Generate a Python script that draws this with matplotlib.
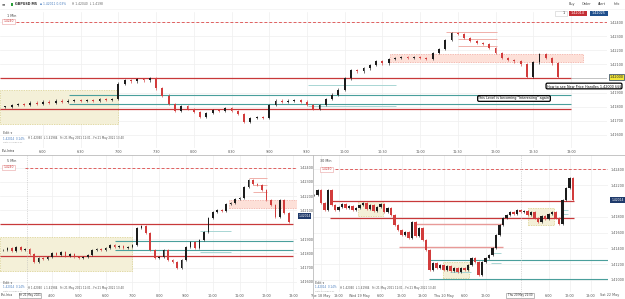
import matplotlib
matplotlib.use("Agg")
import matplotlib.pyplot as plt
from matplotlib.patches import Rectangle

W, H = 625, 299

# ---------------- data ----------------
# top chart: 5 min closes, Fri 21 May, first bar 05:30 (minutes after midnight)
top_t0, top_step = 330, 5
top_close = [1.41800, 1.41814, 1.41821, 1.41814, 1.41829, 1.41821, 1.41836, 1.41829,
             1.41843, 1.41836, 1.41843, 1.41850, 1.41843, 1.41850, 1.41843, 1.41857,
             1.41850, 1.41857, 1.41964, 1.41986, 1.41979, 1.41993, 1.41986, 1.42000,
             1.41929, 1.41879, 1.41821, 1.41771, 1.41807, 1.41786, 1.41764, 1.41729,
             1.41757, 1.41779, 1.41771, 1.41793, 1.41771, 1.41750, 1.41693, 1.41721,
             1.41729, 1.41721, 1.41814, 1.41843, 1.41836, 1.41843, 1.41850, 1.41836,
             1.41814, 1.41786, 1.41814, 1.41857, 1.41886, 1.41921, 1.42000, 1.42057,
             1.42050, 1.42071, 1.42093, 1.42121, 1.42107, 1.42136, 1.42143, 1.42150,
             1.42143, 1.42150, 1.42143, 1.42136, 1.42179, 1.42207, 1.42271, 1.42321,
             1.42314, 1.42286, 1.42264, 1.42250, 1.42243, 1.42214, 1.42179, 1.42143,
             1.42129, 1.42121, 1.42100, 1.42014, 1.42114, 1.42171, 1.42143, 1.42107,
             1.42014]

# bottom left: 10 min closes, first bar 02:10
bl_t0, bl_step = 130, 10
bl_close = [1.41823, 1.41837, 1.41816, 1.41844, 1.41823, 1.41830, 1.41795, 1.41740,
            1.41768, 1.41761, 1.41775, 1.41802, 1.41788, 1.41809, 1.41781, 1.41795,
            1.41775, 1.41768, 1.41775, 1.41788, 1.41823, 1.41830, 1.41823, 1.41837,
            1.41858, 1.41844, 1.41851, 1.41837, 1.41844, 1.41858, 1.41977, 1.41991,
            1.41942, 1.41823, 1.41768, 1.41775, 1.41823, 1.41754, 1.41740, 1.41698,
            1.41754, 1.41844, 1.41879, 1.41837, 1.41893, 1.41949, 1.42047, 1.42089,
            1.42103, 1.42096, 1.42145, 1.42152, 1.42180, 1.42187, 1.42264, 1.42313,
            1.42285, 1.42278, 1.42243, 1.42173, 1.42138, 1.42054, 1.42173, 1.42082,
            1.42019]

# bottom right: hourly closes from Tue 18 May 11:00 (bar index)
br_close = [1.42077, 1.42140, 1.41976, 1.41887, 1.42140, 1.41950, 1.41887, 1.41925,
            1.41963, 1.41912, 1.41938, 1.41887, 1.41912, 1.41950, 1.41976, 1.41900,
            1.41950, 1.41874, 1.41925, 1.41963, 1.41862, 1.41912, 1.41824, 1.41697,
            1.41633, 1.41570, 1.41608, 1.41532, 1.41735, 1.41557, 1.41659, 1.41507,
            1.41380, 1.41127, 1.41215, 1.41152, 1.41190, 1.41127, 1.41177, 1.41114,
            1.41152, 1.41101, 1.41152, 1.41127, 1.41190, 1.41279, 1.41228, 1.41063,
            1.41228, 1.41279, 1.41317, 1.41405, 1.41570, 1.41697, 1.41786, 1.41824,
            1.41862, 1.41836, 1.41887, 1.41862, 1.41874, 1.41824, 1.41862, 1.41786,
            1.41735, 1.41811, 1.41773, 1.41836, 1.41862, 1.41786, 1.41710, 1.42014,
            1.42166, 1.42292, 1.42014]

last_price = 1.42014
level_dash = 1.4240
level_red = [1.42005, 1.41782]
level_teal = [1.41886, 1.41821]
level_teal_light = [1.41953, 1.41807]
level_pink = [1.42329, 1.42279, 1.42229]
pink_start = [681, 690, 690]
zone_pink = (1.42114, 1.42171)
zone_beige = (1.41679, 1.41917)

# bottom right drawings (price, from bar, to bar)
br_pink_lines = [(1.41710, 28.9, 53.7), (1.41420, 24.3, 54.0)]
br_teal_lines = [(1.41253, 32.9, 84.0), (1.41010, 32.9, 84.0)]
br_teal_short = [(1.41340, 50.6, 53.4), (1.41220, 50.6, 53.4), (1.41890, 70.6, 72.6),
                 (1.41840, 70.6, 72.6), (1.41100, 38.9, 44.9)]
br_beige = [(12.6, 19.7, 1.41811, 1.42001), (36.9, 44.3, 1.41025, 1.41228),
            (61.1, 68.6, 1.41697, 1.41912)]

top_ticks = list(range(360, 781, 30))
top_labels = ["%d:%02d" % (m // 60, m % 60) for m in top_ticks]
bl_ticks = list(range(240, 781, 60))
bl_labels = ["%d:00" % (m // 60) for m in bl_ticks]
br_ticks = [2, 7, 13, 19, 25, 31, 37, 43, 49, 67, 73, 79]
br_labels = ["Tue 18 May", "18:00", "Wed 19 May", "6:00", "12:00", "18:00",
             "Thu 20 May", "6:00", "12:00", "6:00", "12:00", "18:00"]

UP, DOWN = "#1c1c1c", "#d23c3c"
RED, TEAL, LTEAL = "#c8383a", "#4a9f9c", "#a9d6d4"
PINK_F, PINK_E = "#fde0d8", "#f2a79c"
BEIGE_F, BEIGE_E = "#f4f0d8", "#d9cf8a"
FS = 2.4

fig = plt.figure(figsize=(W / 100, H / 100), dpi=100)
fig.patch.set_facecolor("white")


def px_axes(x0, y0, x1, y1):
    return fig.add_axes([x0 / W, 1 - y1 / H, (x1 - x0) / W, (y1 - y0) / H])


def candles(ax, xs, closes, width, wick):
    opens = [closes[0]] + closes[:-1]
    for x, o, c in zip(xs, opens, closes):
        col = UP if c >= o else DOWN
        ax.vlines(x, min(o, c) - wick, max(o, c) + wick, color=col, lw=0.45, zorder=4)
        h = c - o if abs(c - o) > 2e-5 else 2e-5
        ax.bar(x, h, width, bottom=o, color=col, lw=0, zorder=4)


def style(ax, xlim, ylim, yticks, xticks, xlabels):
    ax.set_xlim(*xlim)
    ax.set_ylim(*ylim)
    for s in ax.spines.values():
        s.set_visible(False)
    ax.yaxis.tick_right()
    ax.set_yticks(yticks)
    ax.set_yticklabels(["%.5f" % v for v in yticks])
    ax.set_xticks(xticks)
    ax.set_xticklabels(xlabels)
    ax.tick_params(length=0, labelsize=FS, colors="#555555", pad=2)
    ax.tick_params(axis="x", pad=1.2)
    ax.grid(color="#efefef", lw=0.5)
    ax.set_axisbelow(True)


def zone(ax, x0, x1, lo, hi, fc, ec):
    ax.add_patch(Rectangle((x0, lo), x1 - x0, hi - lo, fc=fc, ec=ec,
                           ls=(0, (2, 1.5)), lw=0.5, zorder=1))


# ---------------- top panel ----------------
ax = px_axes(0, 12, 607, 148)
style(ax, (325.8, 808.7), (1.415071, 1.424714),
      [1.416, 1.417, 1.418, 1.419, 1.421, 1.422, 1.423, 1.424], top_ticks, top_labels)
xs = [top_t0 + top_step * i for i in range(len(top_close))]
candles(ax, xs, top_close, 1.5, 0.00008)
zone(ax, 325.8, 420, zone_beige[0], zone_beige[1], BEIGE_F, BEIGE_E)
zone(ax, 636, 790, zone_pink[0], zone_pink[1], PINK_F, PINK_E)
ax.axhline(level_dash, xmin=0.027, color="#e06060", lw=0.7, ls=(0, (3, 2)), zorder=2)
for p in level_red:
    ax.hlines(p, 325.8, 780, color=RED, lw=0.9, zorder=3)
for p in level_teal:
    ax.hlines(p, 381, 780, color=TEAL, lw=0.8, zorder=3)
for p in level_teal_light:
    ax.hlines(p, 571, 641, color=LTEAL, lw=0.7, zorder=3)
for p, s in zip(level_pink, pink_start):
    ax.hlines(p, s, 721, color="#f0b0aa", lw=0.7, zorder=3)
ax.hlines(level_red[0], 780, 808.7, color="#aaaaaa", lw=0.5, zorder=3)

# ---------------- bottom left ----------------
ax2 = px_axes(0, 155, 297, 292)
style(ax2, (123.6, 788.5), (1.415300, 1.424874),
      [1.416, 1.417, 1.418, 1.419, 1.421, 1.422, 1.423, 1.424], bl_ticks, bl_labels)
xs = [bl_t0 + bl_step * i for i in range(len(bl_close))]
candles(ax2, xs, bl_close, 3.5, 0.00009)
zone(ax2, 123.6, 420, zone_beige[0], zone_beige[1], BEIGE_F, BEIGE_E)
zone(ax2, 636, 790, zone_pink[0], zone_pink[1], PINK_F, PINK_E)
ax2.axhline(level_dash, xmin=0.085, color="#e06060", lw=0.7, ls=(0, (3, 2)), zorder=2)
for p in level_red:
    ax2.hlines(p, 123.6, 780, color=RED, lw=0.9, zorder=3)
for p in level_teal:
    ax2.hlines(p, 381, 780, color=TEAL, lw=0.8, zorder=3)
for p in level_teal_light:
    ax2.hlines(p, 571, 641, color=LTEAL, lw=0.7, zorder=3)
for p, s in zip(level_pink, pink_start):
    ax2.hlines(p, s, 721, color="#f0b0aa", lw=0.7, zorder=3)

# ---------------- bottom right ----------------
ax3 = px_axes(313, 155, 608, 292)
style(ax3, (-0.286, 84.0), (1.408479, 1.425837),
      [1.410, 1.412, 1.414, 1.416, 1.418, 1.422, 1.424], br_ticks, br_labels)
candles(ax3, list(range(len(br_close))), br_close, 0.6, 0.00016)
for x0, x1, lo, hi in br_beige:
    zone(ax3, x0, x1, lo, hi, BEIGE_F, BEIGE_E)
ax3.axhline(level_dash, xmin=0.075, color="#e06060", lw=0.7, ls=(0, (3, 2)), zorder=2)
for p in level_red:
    ax3.hlines(p, 4.6, 74.3, color=RED, lw=0.9, zorder=3)
for p, a, b in br_pink_lines:
    ax3.hlines(p, a, b, color="#e89a98", lw=1.0, zorder=3)
for p, a, b in br_teal_lines:
    ax3.hlines(p, a, b, color=TEAL, lw=0.8, zorder=3)
for p, a, b in br_teal_short:
    ax3.hlines(p, a, b, color=LTEAL, lw=0.7, zorder=3)

# ---------------- overlay (ui chrome) ----------------
ov = fig.add_axes([0, 0, 1, 1], zorder=10)
ov.set_xlim(0, W)
ov.set_ylim(H, 0)
ov.axis("off")
ov.patch.set_alpha(0)

ov.plot([0, W], [155, 155], color="#bbbbbb", lw=0.6)
ov.plot([313, 313], [155, H], color="#bbbbbb", lw=0.6)
ov.plot([0, W], [9, 9], color="#eeeeee", lw=0.4)
ov.plot([27, 27], [155, H], color="#bbbbbb", lw=0.4, ls=(0, (2, 2)))
ov.plot([521, 521], [155, H], color="#bbbbbb", lw=0.4, ls=(0, (2, 2)))

ov.text(2, 4, "\u2261", fontsize=3, va="center", color="#555555")
ov.add_patch(Rectangle((11, 2.5), 2, 3, fc="#2a9d3a"))
ov.text(15, 4, "GBPUSD M5", fontsize=FS, va="center", color="#333333", weight="bold")
ov.text(40, 4, "\u25aa 1.42011 0.03%", fontsize=2.2, va="center", color="#4a7fc0")
ov.text(72, 4, "H 1.42040  L 1.4198", fontsize=2.2, va="center", color="#666666")
for x, t in zip([572, 587, 602, 617], ["Buy", "Order", "Alert", "Info"]):
    ov.text(x, 4, t, fontsize=FS, va="center", ha="center", color="#444444")
ov.add_patch(Rectangle((555, 10.5), 12, 5, fc="white", ec="#cccccc", lw=0.4))
ov.text(565, 13, "1", fontsize=FS, va="center", ha="right", color="#333333")
ov.add_patch(Rectangle((569, 10.5), 18, 5, fc="#c42f35", lw=0))
ov.text(578, 13, "1.42014", fontsize=FS, va="center", ha="center", color="white")
ov.add_patch(Rectangle((590, 10.5), 18, 5, fc="#1f4f8c", lw=0))
ov.text(599, 13, "1.42025", fontsize=FS, va="center", ha="center", color="white")

# timeframe labels and dashed level tags
for x, y, t in [(7, 16, "1 Min"), (7, 161, "5 Min"), (320, 161, "30 Min")]:
    ov.text(x, y, t, fontsize=FS, va="center", color="#444444")
for x, y in [(2, 21.5), (2, 167.5), (320, 169.5)]:
    ov.add_patch(Rectangle((x, y - 2.5), 13, 5, fc="white", ec="#e8a0a0", lw=0.4))
    ov.text(x + 6.5, y, "1.4240", fontsize=2.2, va="center", ha="center", color="#d04040")

# current price tags
ov.add_patch(Rectangle((609, 74), 15, 6, fc="#f2e63a", ec="#1f3a6b", lw=0.5))
ov.text(616.5, 77, "1.42000", fontsize=FS, va="center", ha="center", color="#222222")
ov.add_patch(Rectangle((298, 213), 13, 6, fc="#1f3a6b", lw=0))
ov.text(304.5, 216, "1.42014", fontsize=2.2, va="center", ha="center", color="white")
ov.add_patch(Rectangle((610, 197), 15, 5.5, fc="#1f3a6b", lw=0))
ov.text(617.5, 199.7, "1.42014", fontsize=2.2, va="center", ha="center", color="white")

# info texts
for x, y in [(3, 0), (3, 149), (315, 149)]:
    ov.text(x, y + 133.5, "Edit \u25be", fontsize=FS, va="center", color="#555555")
    ov.text(x, y + 138.5, "1.42014  0.14%", fontsize=2.0, va="center", color="#4a7fc0")
    ov.text(x + 25, y + 138.5,
            "H 1.42040  L 1.41984   Fri 21 May 2021 12:01 - Fri 21 May 2021 13:40",
            fontsize=2.0, va="center", color="#555555")
    ov.text(x, y + 142.5, "Data provided by", fontsize=1.6, va="center", color="#aaaaaa")
ov.text(2, 151.5, "Pivi-Intra", fontsize=2.2, va="center", color="#333333")
ov.text(1, 295, "Pivi-Intra", fontsize=2.0, va="center", color="#333333")
ov.add_patch(Rectangle((19, 292.5), 22, 5, fc="white", ec="#888888", lw=0.4))
ov.text(30, 295, "Fri 21 May 2021", fontsize=2.0, va="center", ha="center", color="#333333")
ov.add_patch(Rectangle((506, 292.5), 28, 5, fc="white", ec="#888888", lw=0.4))
ov.text(520, 295, "Thu 20 May 22:00", fontsize=2.0, va="center", ha="center", color="#333333")
ov.text(610, 295, "Sat 22 May", fontsize=FS, va="center", ha="center", color="#555555")

# annotations
box = dict(boxstyle="round,pad=0.25,rounding_size=0.4", fc="white", ec="black", lw=0.9)
ov.text(584, 86, "How to see New Price Handles 1.42000 $$$", fontsize=2.4,
        ha="center", va="center", color="#111111", bbox=box)
ov.text(514, 98.5, "This Level is becoming \"Interesting\" again", fontsize=2.4,
        ha="center", va="center", color="#111111", bbox=box)

fig.savefig("out.png", dpi=100)
